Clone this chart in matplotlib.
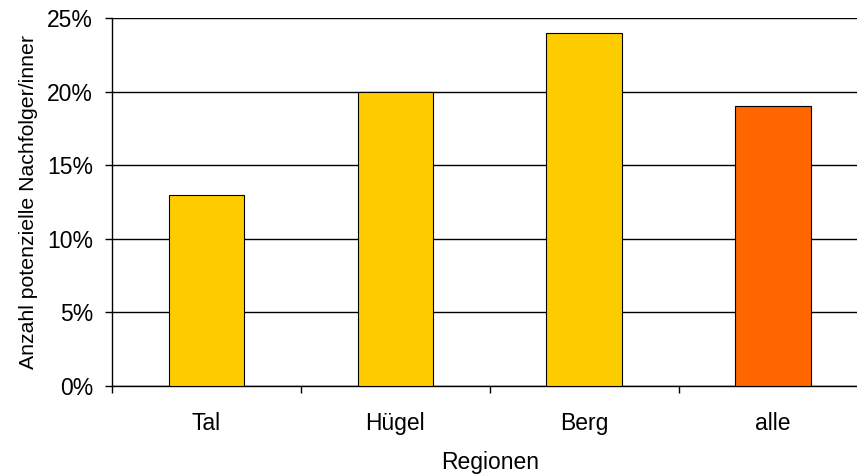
import matplotlib
matplotlib.use("Agg")
import matplotlib.pyplot as plt
from matplotlib.ticker import FuncFormatter, FixedLocator, NullFormatter

categories = ["Tal", "Hügel", "Berg", "alle"]
values = [13, 20, 24, 19]
colors = ["#FFCC00", "#FFCC00", "#FFCC00", "#FF6600"]
yticks = [0, 5, 10, 15, 20, 25]

plt.rcParams['font.family'] = ['Liberation Sans', 'DejaVu Sans']

fig = plt.figure(figsize=(8.57, 4.74), dpi=100)
ax = fig.add_axes([112/857, 1-386/474, (867.5-112)/857, (386-18)/474])

x = list(range(len(categories)))
ax.bar(x, values, width=0.4, color=colors, edgecolor="black", linewidth=0.8, zorder=3)

ax.set_xlim(-0.5, len(categories)-0.5)
ax.set_ylim(0, 25)
ax.set_yticks(yticks)
ax.yaxis.set_major_formatter(FuncFormatter(lambda v, p: f"{int(v)}%"))
ax.grid(axis="y", color="black", linewidth=1, zorder=0)

ax.set_xticks(x)
ax.set_xticklabels(categories)
ax.tick_params(axis="x", which="major", length=0, pad=19, labelsize=16.5)
ax.xaxis.set_minor_locator(FixedLocator([i + 0.5 for i in range(-1, len(categories))]))
ax.xaxis.set_minor_formatter(NullFormatter())
ax.tick_params(axis="x", which="minor", length=5, width=1, direction="out")
ax.tick_params(axis="y", length=5, width=1, direction="out", labelsize=16.5, pad=8.5)

for s in ["top", "right"]:
    ax.spines[s].set_visible(False)
ax.spines["left"].set_linewidth(1)
ax.spines["bottom"].set_linewidth(1)

ax.set_xlabel("Regionen", fontsize=16.5, labelpad=11)
ax.set_ylabel("Anzahl potenzielle Nachfolger/inner", fontsize=15.3, labelpad=7)

fig.savefig("out.png", dpi=100)
